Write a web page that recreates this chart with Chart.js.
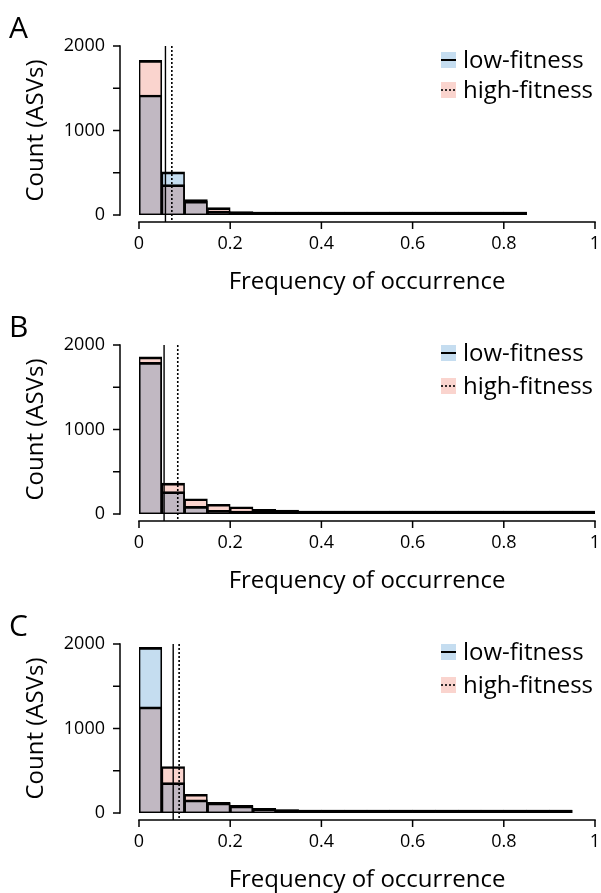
<!DOCTYPE html>
<html><head><meta charset="utf-8">
<script src="https://cdn.jsdelivr.net/npm/chart.js@4.4.1/dist/chart.umd.min.js"></script>
<style>
html,body{margin:0;padding:0;background:#fff;width:601px;height:893px;overflow:hidden;position:relative;}
.panel{position:absolute;left:0;width:601px;height:299px;}
</style></head><body>
<div class="panel" style="top:0"><canvas id="cA" width="601" height="299"></canvas></div>
<div class="panel" style="top:299px"><canvas id="cB" width="601" height="299"></canvas></div>
<div class="panel" style="top:598px"><canvas id="cC" width="601" height="299"></canvas></div>
<script>
// ---- data ----
const binCenters = [0.025, 0.075, 0.125, 0.175, 0.225, 0.275, 0.325, 0.375, 0.425, 0.475,
                    0.525, 0.575, 0.625, 0.675, 0.725, 0.775, 0.825, 0.875, 0.925, 0.975];
const xTicks = [0, 0.2, 0.4, 0.6, 0.8, 1];
const xTickLabels = ['0', '0.2', '0.4', '0.6', '0.8', '1'];
const yTicks = [0, 500, 1000, 1500, 2000];
const yTickLabels = ['0', '', '1000', '', '2000'];
const seriesNames = ['low-fitness', 'high-fitness'];
const panelLetters = ['A', 'B', 'C'];
const xTitle = 'Frequency of occurrence';
const yTitle = 'Count (ASVs)';

const lowA  = [1420, 510, 165, 45, 25, 18, 12, 10, 8, 6, 5, 4, 3, 3, 2, 2, 1];
const highA = [1830, 360, 182, 88, 40, 28, 15, 12, 14, 8, 6, 4, 3, 2, 2, 1, 1];
const lowB  = [1795, 265, 90, 43, 30, 22, 18, 12, 9, 7, 6, 5, 4, 3, 3, 2, 2, 1, 1, 1];
const highB = [1860, 365, 180, 115, 86, 55, 47, 30, 18, 12, 9, 7, 5, 4, 3, 3, 2, 2, 1, 1];
const lowC  = [1960, 360, 155, 120, 85, 50, 37, 28, 20, 15, 12, 9, 7, 5, 4, 3, 2, 2, 1];
const highC = [1255, 550, 222, 125, 90, 55, 40, 28, 20, 14, 10, 8, 6, 5, 4, 3, 2, 1, 1];

const meanLow  = [0.058, 0.055, 0.075];
const meanHigh = [0.072, 0.085, 0.088];

// ---- styles ----
const FONT = "'Open Sans', 'Noto Sans', sans-serif";
const lowColor = '#c5ddf0';
const highColor = '#fad4ce';
Chart.defaults.color = '#000';
Chart.defaults.font.family = FONT;

const panels = [
  {id: 'cA', low: lowA, high: highA, legendRows: [68, 98]},
  {id: 'cB', low: lowB, high: highB, legendRows: [62, 95]},
  {id: 'cC', low: lowC, high: highC, legendRows: [62, 95]},
];

const multiplyPlugin = {
  id: 'multiplyBlend',
  beforeDatasetsDraw(chart) { chart.ctx.save(); chart.ctx.globalCompositeOperation = 'multiply'; },
  afterDatasetsDraw(chart) { chart.ctx.restore(); }
};

const overlayPlugin = {
  id: 'overlay',
  afterDraw(chart, args, opts) {
    const ctx = chart.ctx, xs = chart.scales.x, ys = chart.scales.y, ca = chart.chartArea;
    const axisX = 120, axisY = ca.bottom + 7, tl = 7;
    ctx.save();
    ctx.strokeStyle = '#000';
    ctx.lineWidth = 1.5;
    ctx.lineCap = 'butt';
    const line = (x1, y1, x2, y2) => { ctx.beginPath(); ctx.moveTo(x1, y1); ctx.lineTo(x2, y2); ctx.stroke(); };
    // y axis
    line(axisX, ys.getPixelForValue(yTicks[0]) + 0.75, axisX, ys.getPixelForValue(yTicks[yTicks.length - 1]) - 0.75);
    yTicks.forEach(v => { const y = ys.getPixelForValue(v); line(axisX - tl, y, axisX, y); });
    // x axis
    line(xs.getPixelForValue(xTicks[0]) - 0.75, axisY, xs.getPixelForValue(xTicks[xTicks.length - 1]) + 0.75, axisY);
    xTicks.forEach(v => { const x = xs.getPixelForValue(v); line(x, axisY, x, axisY + tl); });
    // mean lines
    const top = ys.getPixelForValue(2000);
    ctx.lineWidth = 1.4;
    line(xs.getPixelForValue(opts.meanLow), top, xs.getPixelForValue(opts.meanLow), axisY);
    ctx.setLineDash([2, 2]);
    ctx.lineWidth = 1.6;
    line(xs.getPixelForValue(opts.meanHigh), top, xs.getPixelForValue(opts.meanHigh), axisY);
    ctx.setLineDash([]);
    // legend
    const lx = 441, pw = 15, ph = 16;
    chart.data.datasets.forEach((ds, i) => {
      const yb = opts.legendRows[i];
      ctx.fillStyle = ds.backgroundColor;
      ctx.fillRect(lx, yb - ph, pw, ph);
      ctx.lineWidth = 2;
      if (i === 1) { ctx.setLineDash([2, 2]); ctx.lineWidth = 1.6; }
      line(lx, yb - ph / 2, lx + pw, yb - ph / 2);
      ctx.setLineDash([]);
      ctx.fillStyle = '#000';
      ctx.font = "24px " + FONT;
      ctx.textAlign = 'left';
      ctx.textBaseline = 'alphabetic';
      ctx.fillText(ds.label, lx + 22, yb);
    });
    // panel letter
    ctx.font = "30px " + FONT;
    ctx.fillText(opts.letter, 9, 38);
    ctx.restore();
  }
};

panels.forEach((p, k) => {
  const mk = (arr) => arr.map((v, i) => ({x: binCenters[i], y: v}));
  new Chart(document.getElementById(p.id), {
    type: 'bar',
    data: {
      datasets: [
        {label: seriesNames[0], data: mk(p.low), backgroundColor: lowColor, borderColor: '#000',
         borderWidth: {top: 2, bottom: 1, left: 1, right: 1}, borderSkipped: false},
        {label: seriesNames[1], data: mk(p.high), backgroundColor: highColor, borderColor: '#000',
         borderWidth: {top: 2, bottom: 1, left: 1, right: 1}, borderSkipped: false},
      ]
    },
    options: {
      responsive: false,
      animation: false,
      devicePixelRatio: 1,
      grouped: false,
      barPercentage: 1,
      categoryPercentage: 1,
      minBarLength: 3,
      layout: {padding: {top: 46, right: 6, left: 0, bottom: 0}},
      plugins: {
        legend: {display: false},
        tooltip: {enabled: false},
        overlay: {meanLow: meanLow[k], meanHigh: meanHigh[k], legendRows: p.legendRows, letter: panelLetters[k]}
      },
      scales: {
        x: {
          type: 'linear', min: 0, max: 1, offset: false,
          grid: {display: false, drawTicks: false}, border: {display: false},
          afterBuildTicks: s => { s.ticks = xTicks.map(v => ({value: v})); },
          ticks: {padding: 18, font: {size: 18}, maxRotation: 0,
                  callback: (v) => { const i = xTicks.indexOf(v); return i >= 0 ? xTickLabels[i] : ''; }},
          title: {display: true, text: xTitle, font: {size: 24}, padding: {top: 0, bottom: 2}},
          afterFit: s => { s.height = 299 - 215; s.paddingLeft = 0; s.paddingRight = 0; }
        },
        y: {
          min: 0, max: 2000,
          grid: {display: false, drawTicks: false}, border: {display: false},
          afterBuildTicks: s => { s.ticks = yTicks.map(v => ({value: v})); },
          ticks: {padding: 34, font: {size: 18},
                  callback: (v) => { const i = yTicks.indexOf(v); return i >= 0 ? yTickLabels[i] : ''; }},
          title: {display: true, text: yTitle, font: {size: 24}, padding: {top: 22, bottom: 0}},
          afterFit: s => { s.width = 139; s.paddingTop = 0; s.paddingBottom = 0; }
        }
      }
    },
    plugins: [multiplyPlugin, overlayPlugin]
  });
});
</script>
</body></html>
